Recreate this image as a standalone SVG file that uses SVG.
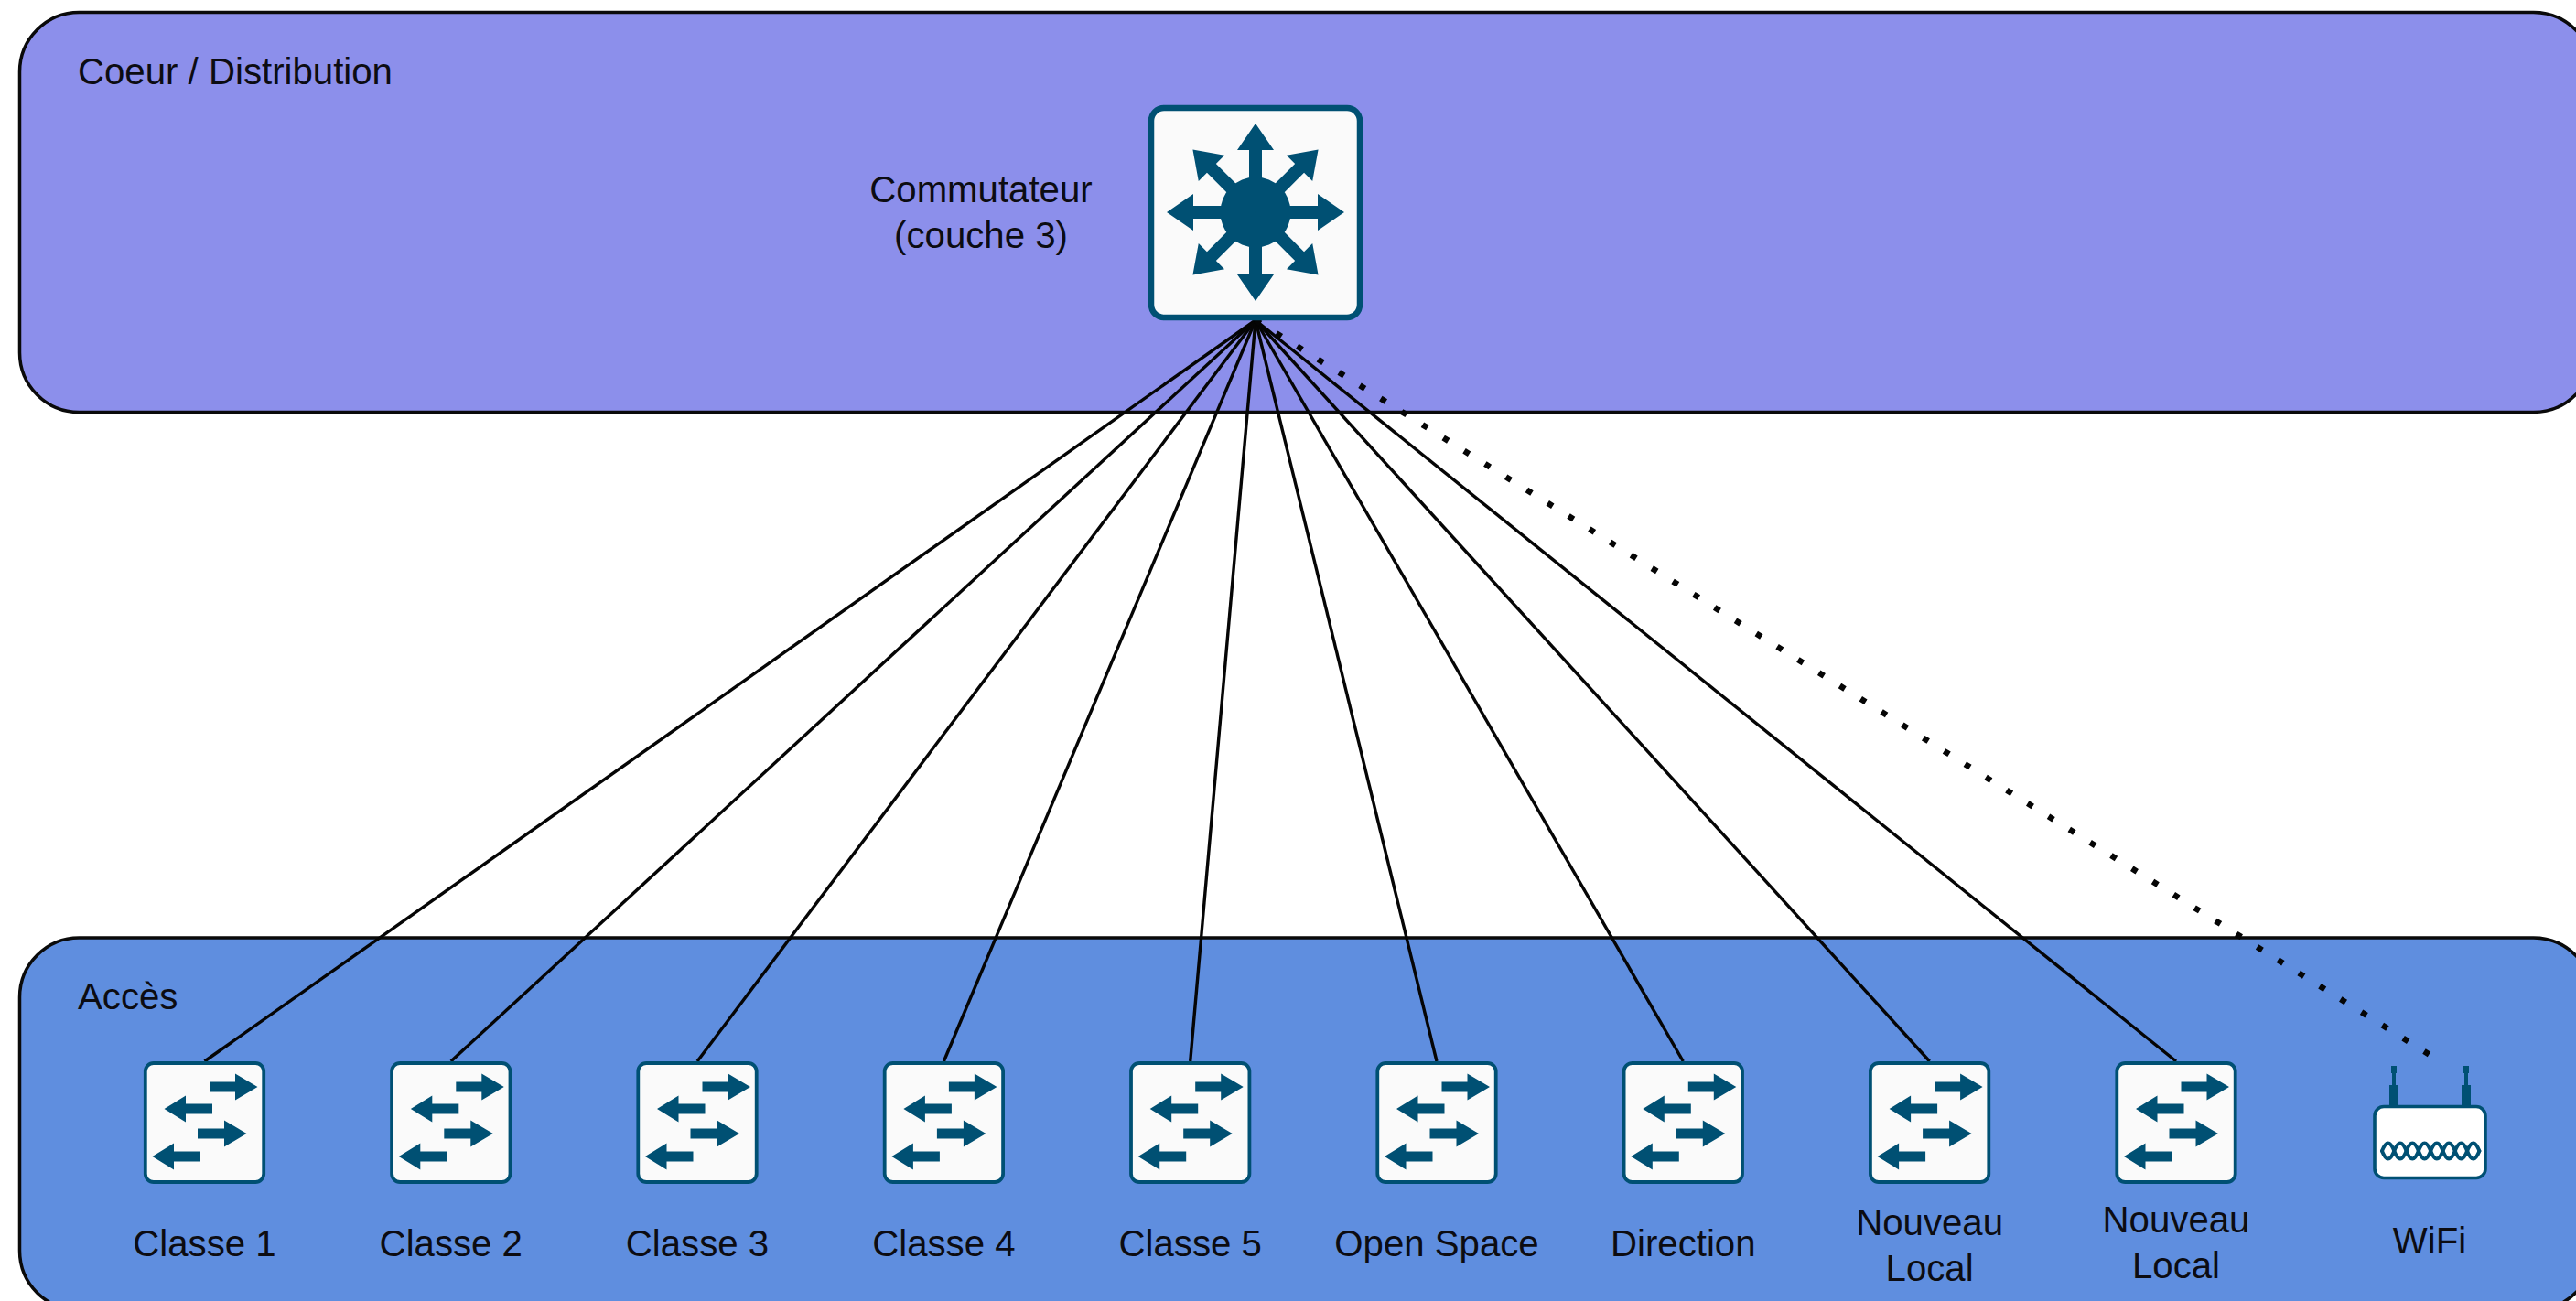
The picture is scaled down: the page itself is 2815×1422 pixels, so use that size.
<svg xmlns="http://www.w3.org/2000/svg" xmlns:xlink="http://www.w3.org/1999/xlink" width="2815" height="1422" viewBox="0 0 2815 1422">
<style>
text{font-family:"Liberation Sans",Arial,sans-serif;font-size:40.2px;fill:#0c0c12}
.c{text-anchor:middle}
.zone{stroke:#0a0a0a;stroke-width:3.5}
.ic{fill:#005073}
.box{fill:#fafafa;stroke:#005073}
.link{stroke:#050505;stroke-width:3.4;fill:none}
.dot{stroke:#050505;stroke-width:6.5;fill:none;stroke-dasharray:6.5 20.4}
</style>
<defs>
<polygon id="ray" points="0,-7 68,-7 68,-20 97,0 68,20 68,7 0,7"/>
<g id="sw">
<rect class="box" x="-64.7" y="-65" width="129.4" height="130" rx="9" stroke-width="3.8"/>
<g class="ic">
<polygon points="5.5,-44.500 33.500,-44.500 33.500,-53.500 58,-39 33.500,-24.500 33.500,-33.500 5.500,-33.500"/>
<polygon points="-44,-15 -20.500,-29.500 -20.500,-20.500 8.500,-20.500 8.500,-9.500 -20.500,-9.500 -20.500,-0.500"/>
<polygon points="-7.500,6.500 21.500,6.500 21.500,-2.500 46,12 21.500,26.500 21.500,17.500 -7.500,17.500"/>
<polygon points="-57,37 -33.500,22.500 -33.500,31.500 -4.500,31.500 -4.500,42.500 -33.500,42.500 -33.500,51.500"/>
</g>
</g>
</defs>
<rect width="2815" height="1422" fill="#fff"/>
<g id="zone-coeur">
<rect class="zone" x="21.5" y="13.500" width="2812" height="437" rx="65" fill="#8c8feb"/>
<text x="85" y="92">Coeur / Distribution</text>
</g>
<g id="zone-acces">
<rect class="zone" x="21.5" y="1025" width="2812" height="407" rx="65" fill="#5f8edf"/>
<text x="85" y="1103">Accès</text>
</g>
<g id="connectors">
<line class="link" x1="1372" y1="350" x2="223.5" y2="1160"/>
<line class="link" x1="1372" y1="350" x2="492.8" y2="1160"/>
<line class="link" x1="1372" y1="350" x2="762" y2="1160"/>
<line class="link" x1="1372" y1="350" x2="1031.4" y2="1160"/>
<line class="link" x1="1372" y1="350" x2="1300.7" y2="1160"/>
<line class="link" x1="1372" y1="350" x2="1570" y2="1160"/>
<line class="link" x1="1372" y1="350" x2="1839.3" y2="1160"/>
<line class="link" x1="1372" y1="350" x2="2108.6" y2="1160"/>
<line class="link" x1="1372" y1="350" x2="2378" y2="1160"/>
<line class="dot" x1="1372" y1="350" x2="2660" y2="1156"/>
</g>
<g id="commutateur">
<rect class="box" x="1258" y="118" width="228" height="229" rx="14" stroke-width="6.5"/>
<g class="ic" transform="translate(1372,232)">
<circle r="38.500"/>
<use href="#ray"/>
<use href="#ray" transform="rotate(45)"/>
<use href="#ray" transform="rotate(90)"/>
<use href="#ray" transform="rotate(135)"/>
<use href="#ray" transform="rotate(180)"/>
<use href="#ray" transform="rotate(225)"/>
<use href="#ray" transform="rotate(270)"/>
<use href="#ray" transform="rotate(315)"/>
</g>
<text class="c" x="1072" y="221">Commutateur</text>
<text class="c" x="1072" y="271">(couche 3)</text>
</g>
<g id="classe1"><use href="#sw" x="223.5" y="1227"/><text class="c" x="223.5" y="1373">Classe 1</text></g>
<g id="classe2"><use href="#sw" x="492.8" y="1227"/><text class="c" x="492.8" y="1373">Classe 2</text></g>
<g id="classe3"><use href="#sw" x="762" y="1227"/><text class="c" x="762" y="1373">Classe 3</text></g>
<g id="classe4"><use href="#sw" x="1031.4" y="1227"/><text class="c" x="1031.4" y="1373">Classe 4</text></g>
<g id="classe5"><use href="#sw" x="1300.7" y="1227"/><text class="c" x="1300.7" y="1373">Classe 5</text></g>
<g id="openspace"><use href="#sw" x="1570" y="1227"/><text class="c" x="1570" y="1373">Open Space</text></g>
<g id="direction"><use href="#sw" x="1839.3" y="1227"/><text class="c" x="1839.3" y="1373">Direction</text></g>
<g id="nouveau1"><use href="#sw" x="2108.6" y="1227"/><text class="c" x="2108.6" y="1350">Nouveau</text><text class="c" x="2108.6" y="1400">Local</text></g>
<g id="nouveau2"><use href="#sw" x="2378" y="1227"/><text class="c" x="2378" y="1347">Nouveau</text><text class="c" x="2378" y="1397">Local</text></g>
<g id="wifi">
<g class="ic">
<rect x="2611" y="1186" width="10" height="23"/><rect x="2614" y="1172" width="4" height="15"/><rect x="2613" y="1165" width="6" height="8"/>
<rect x="2690" y="1186" width="10" height="23"/><rect x="2693" y="1172" width="4" height="15"/><rect x="2692" y="1165" width="6" height="8"/>
</g>
<rect x="2595" y="1209.500" width="121" height="78" rx="10" fill="#fff" stroke="#005073" stroke-width="3.600"/>
<g fill="none" stroke="#005073" stroke-width="4" stroke-linecap="round">
<path d="M2603 1258q6.700-17 13.300 0t13.300 0 13.300 0 13.300 0 13.300 0 13.300 0 13.300 0 13.300 0"/>
<path d="M2603 1258q6.700 17 13.300 0t13.300 0 13.300 0 13.300 0 13.300 0 13.300 0 13.300 0 13.300 0"/>
</g>
<text class="c" x="2655" y="1370">WiFi</text>
</g>
</svg>
